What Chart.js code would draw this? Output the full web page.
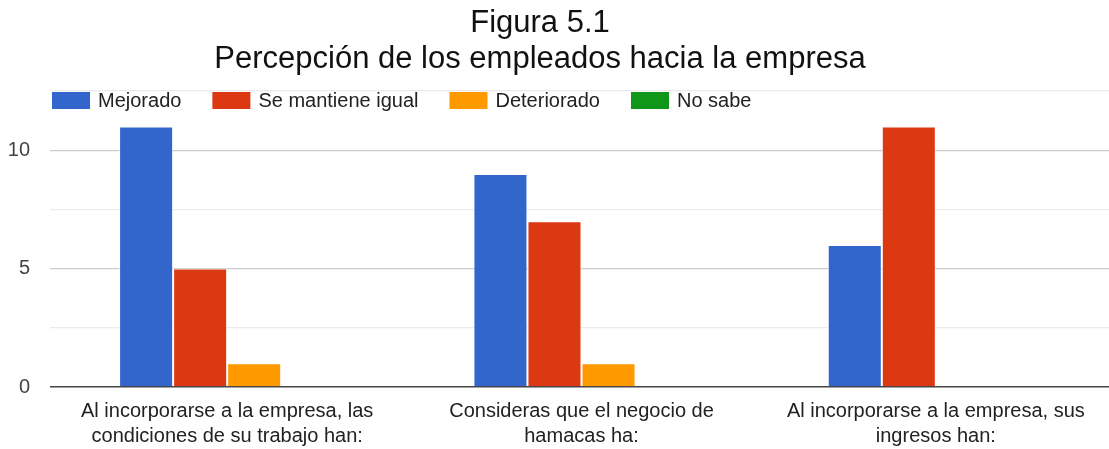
<!DOCTYPE html>
<html>
<head>
<meta charset="utf-8">
<script src="https://cdn.jsdelivr.net/npm/chart.js@4/dist/chart.umd.min.js"></script>
<style>
  html, body { margin: 0; padding: 0; background: #fff; overflow: hidden; }
  #wrap { width: 1113px; height: 449px; }
</style>
</head>
<body>
<div id="wrap"><canvas id="c" width="1113" height="449"></canvas></div>
<script>
const titleLines = ["Figura 5.1", "Percepción de los empleados hacia la empresa"];
const categories = [
  ["Al incorporarse a la empresa, las", "condiciones de su trabajo han:"],
  ["Consideras que el negocio de", "hamacas ha:"],
  ["Al incorporarse a la empresa, sus", "ingresos han:"]
];
const seriesNames = ["Mejorado", "Se mantiene igual", "Deteriorado", "No sabe"];
const mejorado = [11, 9, 6];
const seMantiene = [5, 7, 11];
const deteriorado = [1, 1, 0];
const noSabe = [0, 0, 0];
const yTicks = [0, 5, 10];
const colors = ["#3366cc", "#dc3912", "#ff9900", "#109618"];

const seriesValues = [mejorado, seMantiene, deteriorado, noSabe];
const FONT = "'Liberation Sans', Arial, Helvetica, sans-serif";

const titlePlugin = {
  id: 'customTitle',
  afterDraw(chart) {
    const ctx = chart.ctx;
    ctx.save();
    ctx.font = '31px ' + FONT;
    ctx.fillStyle = '#111';
    ctx.textAlign = 'center';
    ctx.textBaseline = 'alphabetic';
    const cx = 540;
    titleLines.forEach((t, i) => ctx.fillText(t, cx, 32 + i * 36));
    ctx.restore();
  }
};

const legendPlugin = {
  id: 'customLegend',
  afterDraw(chart) {
    const ctx = chart.ctx;
    ctx.save();
    ctx.font = '20px ' + FONT;
    ctx.textBaseline = 'middle';
    ctx.textAlign = 'left';
    let x = 52;
    const y = 92;
    seriesNames.forEach((name, i) => {
      ctx.fillStyle = colors[i];
      ctx.fillRect(x, y, 38, 17);
      ctx.fillStyle = '#222';
      ctx.fillText(name, x + 46, y + 9);
      x += 46 + ctx.measureText(name).width + 31;
    });
    ctx.restore();
  }
};

new Chart(document.getElementById('c'), {
  type: 'bar',
  data: {
    labels: categories,
    datasets: seriesNames.map((name, i) => ({
      label: name,
      data: seriesValues[i],
      backgroundColor: colors[i],
      borderColor: 'rgba(255,255,255,0.75)',
      borderWidth: 1,
      borderSkipped: 'start',
      barPercentage: 1,
      categoryPercentage: 0.61
    }))
  },
  options: {
    responsive: false,
    animation: false,
    layout: { padding: { left: 0, right: 0, top: 91, bottom: 0 } },
    plugins: {
      legend: { display: false },
      tooltip: { enabled: false },
      title: { display: false }
    },
    scales: {
      x: {
        grid: { display: false, drawTicks: false },
        border: { display: false },
        ticks: {
          color: '#222',
          font: { family: FONT, size: 20, lineHeight: 1.25 },
          padding: 12,
          maxRotation: 0,
          autoSkip: false
        },
        afterFit(scale) { scale.height = 62; }
      },
      y: {
        min: 0,
        max: 12.5,
        grid: {
          drawTicks: false,
          color: (c) => {
            const v = c.tick ? c.tick.value : 0;
            if (v === 0) return '#444';
            return yTicks.includes(v) ? '#cccccc' : '#ebebeb';
          },
          lineWidth: (c) => (c.tick && c.tick.value === 0) ? 1.6 : 1.2
        },
        border: { display: false },
        ticks: {
          stepSize: 2.5,
          color: '#444',
          font: { family: FONT, size: 20 },
          padding: 20,
          callback: (v) => yTicks.includes(v) ? String(v) : ''
        },
        afterFit(scale) { scale.width = 50; }
      }
    }
  },
  plugins: [titlePlugin, legendPlugin]
});
</script>
</body>
</html>
